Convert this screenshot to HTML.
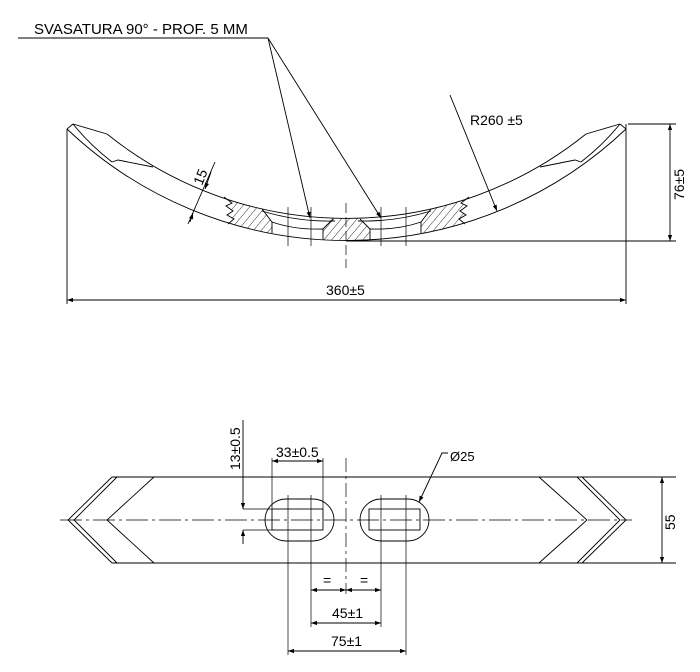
<!DOCTYPE html>
<html><head><meta charset="utf-8"><style>
html,body{margin:0;padding:0;background:#fff;}
svg{display:block;font-family:"Liberation Sans",Arial,sans-serif;}
</style></head><body>
<svg width="700" height="672" viewBox="0 0 700 672" xmlns="http://www.w3.org/2000/svg">
<defs>
<pattern id="h" width="6" height="6" patternUnits="userSpaceOnUse" patternTransform="rotate(40)">
<line x1="0" y1="0" x2="0" y2="6" stroke="#000" stroke-width="0.8"/>
</pattern>
<clipPath id="band"><path d="M107,134 A382,382 0 0 0 586,134 L626,129 A406,406 0 0 1 67,129 Z"/></clipPath>
<marker id="a" viewBox="0 0 10 10" refX="10" refY="5" markerWidth="10" markerHeight="6" orient="auto-start-reverse" markerUnits="userSpaceOnUse">
<path d="M0,1.5 L10,5 L0,8.5 z" fill="#000"/>
</marker>
</defs>
<g stroke="#000" stroke-width="0.9" fill="none">
<line x1="18" y1="38" x2="268" y2="38"/>
<line x1="268" y1="38" x2="310" y2="218" marker-end="url(#a)"/>
<line x1="268" y1="38" x2="381" y2="218" marker-end="url(#a)"/>
<line x1="450" y1="95" x2="497" y2="211" marker-end="url(#a)"/>
<polyline points="73,124 107,134"/>
<polyline points="620,124 586,134"/>
<path d="M107,134 A382,382 0 0 0 586,134"/>
<path d="M67,129 A406,406 0 0 0 626,129"/>
<line x1="67" y1="129" x2="73" y2="124"/>
<line x1="626" y1="129" x2="620" y2="124"/>
<path d="M73,124 Q90,145 112,162"/>
<polyline points="112,162 118,160 153,167"/>
<path d="M620,124 Q603,145 581,162"/>
<polyline points="581,162 575,160 540,167"/>
<line x1="67" y1="129" x2="67" y2="304"/>
<line x1="626" y1="124" x2="626" y2="304"/>
<g clip-path="url(#band)" stroke="none">
<polygon points="224,195 232,203 226,206 233,211 227,215 234,219 228,224 228,240 272,240 272,222 262,205" fill="url(#h)"/>
<polygon points="323,229 333,219 335,210 358,210 360,219 370,229 370,245 323,245" fill="url(#h)"/>
<polygon points="469,195 461,203 467,206 460,211 466,215 459,219 465,224 465,240 421,240 421,222 431,205" fill="url(#h)"/>
</g>
<polyline points="224,197 232,203 226,206 233,211 227,215 234,219 228,224"/>
<polyline points="469,197 461,203 467,206 460,211 466,215 459,219 465,224"/>
<polyline points="262,209 272,222 272,233"/>
<polyline points="431,209 421,222 421,233"/>
<path d="M262,211 Q298,222 335,221"/>
<path d="M358,221 Q395,222 431,211"/>
<path d="M272,222 Q295,230 323,229"/>
<path d="M421,222 Q398,230 370,229"/>
<polyline points="323,229 333,219"/>
<polyline points="370,229 360,219"/>
<line x1="323" y1="229" x2="323" y2="240"/>
<line x1="370" y1="229" x2="370" y2="240"/>
<g stroke-width="0.7">
<line x1="288" y1="207" x2="288" y2="246"/><line x1="311" y1="207" x2="311" y2="246"/>
<line x1="381" y1="207" x2="381" y2="246"/><line x1="406" y1="207" x2="406" y2="246"/>
<line x1="346" y1="203" x2="346" y2="268" stroke-dasharray="10,4"/>
</g>
<line x1="188" y1="224" x2="215" y2="162"/>
<line x1="211" y1="172" x2="205" y2="189" marker-end="url(#a)"/>
<line x1="190" y1="222" x2="193" y2="213" marker-end="url(#a)"/>
<line x1="628" y1="124" x2="676" y2="124"/>
<line x1="346" y1="241" x2="676" y2="241"/>
<line x1="670" y1="124" x2="670" y2="241" marker-start="url(#a)" marker-end="url(#a)"/>
<line x1="67" y1="300" x2="626" y2="300" marker-start="url(#a)" marker-end="url(#a)"/>
<line x1="112" y1="477" x2="676" y2="477"/>
<line x1="112" y1="563" x2="676" y2="563"/>
<polyline points="112,477 68,520 112,563"/>
<polyline points="117,477 74,520 117,563"/>
<polyline points="154,477 107,520 154,563"/>
<polyline points="577,477 620,520 577,563"/>
<polyline points="582,477 626,520 582,563"/>
<polyline points="539,477 587,520 539,563"/>
<line x1="60" y1="520" x2="632" y2="520" stroke-width="0.7" stroke-dasharray="22,4,3,4"/>
<rect x="265" y="499" width="69" height="42" rx="21"/>
<rect x="272" y="509" width="51" height="21"/>
<rect x="360" y="499" width="69" height="42" rx="21"/>
<rect x="369" y="509" width="51" height="21"/>
<g stroke-width="0.7">
<line x1="288" y1="495" x2="288" y2="655"/><line x1="311" y1="495" x2="311" y2="627"/>
<line x1="381" y1="495" x2="381" y2="627"/><line x1="406" y1="495" x2="406" y2="655"/>
<line x1="346" y1="458" x2="346" y2="594" stroke-dasharray="14,4,3,4"/>
<line x1="272" y1="458" x2="272" y2="509"/><line x1="323" y1="458" x2="323" y2="509"/>
<line x1="243" y1="509" x2="272" y2="509"/><line x1="243" y1="530" x2="272" y2="530"/>
</g>
<line x1="272" y1="461" x2="323" y2="461" marker-start="url(#a)" marker-end="url(#a)"/>
<line x1="243" y1="420" x2="243" y2="509" marker-end="url(#a)"/>
<line x1="243" y1="544" x2="243" y2="530" marker-end="url(#a)"/>
<line x1="311" y1="590" x2="346" y2="590" marker-start="url(#a)" marker-end="url(#a)"/>
<line x1="346" y1="590" x2="381" y2="590" marker-start="url(#a)" marker-end="url(#a)"/>
<line x1="311" y1="623" x2="381" y2="623" marker-start="url(#a)" marker-end="url(#a)"/>
<line x1="288" y1="651" x2="406" y2="651" marker-start="url(#a)" marker-end="url(#a)"/>
<polyline points="448,453 442,453 419,502" marker-end="url(#a)"/>
<line x1="662" y1="477" x2="662" y2="563" marker-start="url(#a)" marker-end="url(#a)"/>
</g>
<g font-size="14" fill="#000">
<text x="34" y="34" font-size="15">SVASATURA 90° - PROF. 5 MM</text>
<text x="470" y="125">R260 ±5</text>
<text x="326" y="295">360±5</text>
<text transform="translate(684,200) rotate(-90)">76±5</text>
<text transform="translate(202,186) rotate(-68)">15</text>
<text x="276" y="457">33±0.5</text>
<text transform="translate(240,470) rotate(-90)">13±0.5</text>
<text x="450" y="461" font-size="13">Ø25</text>
<text x="323" y="585">=</text>
<text x="360" y="585">=</text>
<text x="332" y="618">45±1</text>
<text x="331" y="646">75±1</text>
<text transform="translate(675,530) rotate(-90)">55</text>
</g>
</svg>
</body></html>
